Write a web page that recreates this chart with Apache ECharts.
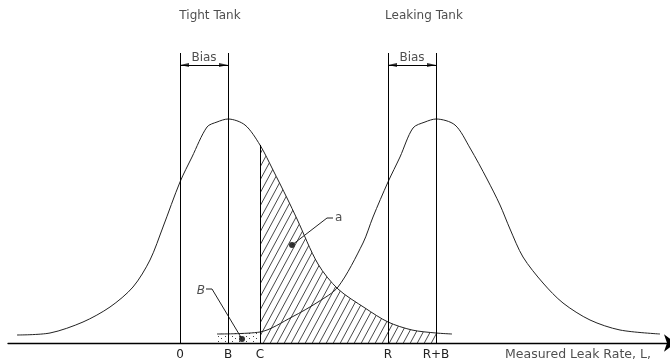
<!DOCTYPE html>
<html>
<head>
<meta charset="utf-8">
<script src="https://cdn.jsdelivr.net/npm/echarts@6/dist/echarts.min.js"></script>
<style>
html, body { margin: 0; padding: 0; background: #fff; }
#chart { width: 670px; height: 362px; }
</style>
</head>
<body>
<div id="chart"></div>
<script>
// x is measured from the "0" mark, y up from the leak rate axis
var tightCurve = [[-163,8],[-130,10],[-97,21],[-70,36],[-47,56],[-30,83],[-17,116],[0,161],[12,186],[27,216],[37,221],[48,224],[65,218],[80,198],[93,173],[107,145],[117,124],[138,79],[158,54],[185,35],[208,21],[232,13],[256,10],[272,9]];
var leakCurve = [[37,9],[80,11],[112,26],[138,41],[158,56],[183,100],[193,126],[208,161],[220,186],[233,215],[245,221],[256,224],[275,218],[290,195],[307,164],[320,138],[330,114],[343,86],[363,60],[383,40],[410,23],[440,13],[480,9]];

var tickValues = [0, 48, 80, 208, 256];
var tickLabels = ['0', 'B', 'C', 'R', 'R+B'];
var lineTops = [290, 290, 198, 290, 290];

var biasSpans = [[0, 48], [208, 256]];
var biasY = 278;
var biasLabelY = 285;

var alphaLeader = [[112,98],[147,125],[153,125]];
var betaLeader = [[62,4],[32,54],[26,54]];

var titleText = ['Tight Tank', 'Leaking Tank'];
var titleX = [30, 244];
var titleY = 327;
var axisTitle = 'Measured Leak Rate, L,';
var axisTitlePos = [325, -12];

function hatch() {
    var c = document.createElement('canvas');
    c.width = 7; c.height = 13;
    var g = c.getContext('2d');
    g.strokeStyle = '#333';
    g.lineWidth = 0.9;
    g.beginPath();
    [-7, 0, 7].forEach(function (o) { g.moveTo(o, 13); g.lineTo(o + 7, 0); });
    g.stroke();
    return c;
}

function dots() {
    var c = document.createElement('canvas');
    c.width = 7; c.height = 5;
    var g = c.getContext('2d');
    g.fillStyle = '#444';
    g.fillRect(1, 1, 1, 1);
    g.fillRect(4, 3, 1, 1);
    return c;
}

var cX = tickValues[2], rbX = tickValues[4];
var hatchData = tightCurve.filter(function (p) { return p[0] >= cX && p[0] <= rbX; });
var betaData = leakCurve.filter(function (p) { return p[0] <= cX; });

var verticals = tickValues.map(function (x, i) {
    return [{ coord: [x, 0] }, { coord: [x, lineTops[i]] }];
});
var biasLines = biasSpans.map(function (s) {
    return [{ coord: [s[0], biasY] }, { coord: [s[1], biasY] }];
});
// arrow heads: half their length away from the line they touch
var arrowHeads = [];
biasSpans.forEach(function (s) {
    arrowHeads.push({ value: [s[0] + 4.5, biasY], symbolRotate: 90 });
    arrowHeads.push({ value: [s[1] - 4.5, biasY], symbolRotate: -90 });
});

var font = 'DejaVu Sans';
var ink = '#222';
var smooth = 0.3;

var chart = echarts.init(document.getElementById('chart'));
var option = {
    animation: false,
    backgroundColor: '#fff',
    grid: { left: 8, right: 0, top: 0, bottom: 19 },
    xAxis: {
        type: 'value',
        min: -172,
        max: 490,
        axisLine: {
            show: true,
            lineStyle: { color: '#000', width: 1.3 },
            symbol: ['none', 'arrow'],
            symbolSize: [13, 12],
            symbolOffset: [0, 6]
        },
        axisTick: { show: false },
        splitLine: { show: false },
        axisLabel: {
            customValues: tickValues,
            formatter: function (v) { return tickLabels[tickValues.indexOf(v)] || ''; },
            margin: 6,
            fontFamily: font,
            fontSize: 12,
            color: ink
        }
    },
    yAxis: { type: 'value', min: 0, max: 343, show: false },
    series: [
        {
            name: 'alpha area',
            type: 'line',
            data: hatchData,
            smooth: smooth,
            symbol: 'none',
            lineStyle: { width: 0 },
            areaStyle: { color: { image: hatch(), repeat: 'repeat' }, opacity: 1 },
            silent: true
        },
        {
            name: 'beta area',
            type: 'line',
            data: betaData,
            symbol: 'none',
            lineStyle: { width: 0 },
            areaStyle: { color: { image: dots(), repeat: 'repeat' }, opacity: 1 },
            silent: true
        },
        {
            name: 'Tight Tank',
            type: 'line',
            data: tightCurve,
            smooth: smooth,
            symbol: 'none',
            lineStyle: { color: ink, width: 1 },
            silent: true
        },
        {
            name: 'Leaking Tank',
            type: 'line',
            data: leakCurve,
            smooth: smooth,
            symbol: 'none',
            lineStyle: { color: ink, width: 1 },
            silent: true
        },
        {
            name: 'marks',
            type: 'line',
            data: [],
            markLine: {
                silent: true,
                symbol: 'none',
                label: { show: false },
                lineStyle: { color: '#000', width: 1, type: 'solid' },
                data: verticals.concat(biasLines)
            }
        },
        {
            name: 'bias arrows',
            type: 'scatter',
            data: arrowHeads,
            symbol: 'triangle',
            symbolSize: [4, 9],
            itemStyle: { color: '#000' },
            silent: true
        },
        {
            name: 'alpha leader',
            type: 'line',
            data: alphaLeader,
            symbol: 'none',
            lineStyle: { color: ink, width: 1 },
            silent: true
        },
        {
            name: 'beta leader',
            type: 'line',
            data: betaLeader,
            symbol: 'none',
            lineStyle: { color: ink, width: 1 },
            silent: true
        },
        {
            name: 'points',
            type: 'scatter',
            data: [alphaLeader[0], betaLeader[0]],
            symbolSize: 6,
            itemStyle: { color: '#000' },
            silent: true
        },
        {
            name: 'titles',
            type: 'scatter',
            symbolSize: 0,
            clip: false,
            silent: true,
            data: titleText.map(function (t, i) { return { name: t, value: [titleX[i], titleY] }; })
                .concat(biasSpans.map(function (s) { return { name: 'Bias', value: [(s[0] + s[1]) / 2, biasLabelY] }; })),
            label: { show: true, position: 'inside', formatter: '{b}', fontFamily: font, fontSize: 12, color: ink }
        },
        {
            name: 'alpha label',
            type: 'scatter',
            symbolSize: 0,
            silent: true,
            data: [{ name: 'a', value: [alphaLeader[2][0] + 2, alphaLeader[2][1]] }],
            label: { show: true, position: 'right', distance: 0, formatter: '{b}', fontFamily: font, fontSize: 12, color: ink }
        },
        {
            name: 'beta label',
            type: 'scatter',
            symbolSize: 0,
            silent: true,
            data: [{ name: 'B', value: [betaLeader[2][0] - 1, betaLeader[2][1] - 2] }],
            label: { show: true, position: 'left', distance: 0, formatter: '{b}', fontFamily: font, fontStyle: 'italic', fontSize: 12, color: ink }
        },
        {
            name: 'axis title',
            type: 'scatter',
            symbolSize: 0,
            clip: false,
            silent: true,
            data: [{ name: axisTitle, value: axisTitlePos }],
            label: { show: true, position: 'right', distance: 0, formatter: '{b}', fontFamily: font, fontSize: 12.5, color: ink }
        }
    ]
};
chart.setOption(option);
</script>
</body>
</html>
